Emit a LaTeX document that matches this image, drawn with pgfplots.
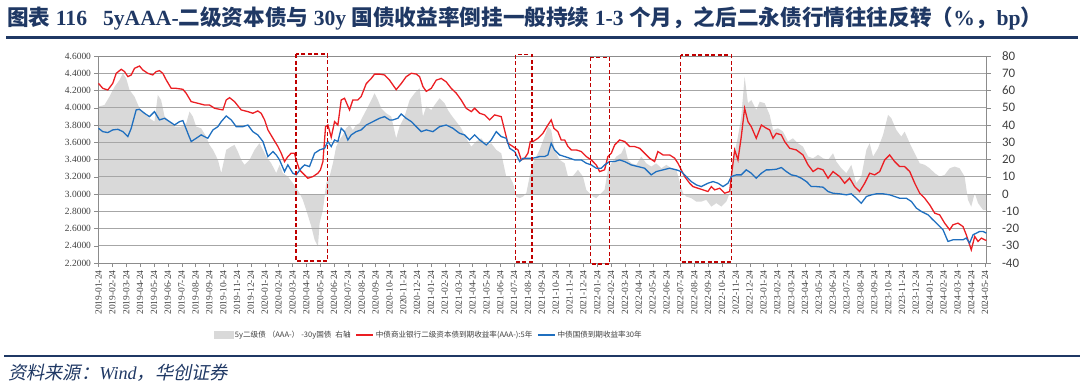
\documentclass[border=0pt]{standalone}
\usepackage{pgfplots}
\pgfplotsset{compat=1.18}
\usepackage{fontspec}
\setmainfont{Liberation Serif}
\newfontfamily\cjk{Noto Sans CJK SC}
\newfontfamily\cjkit{Noto Sans CJK SC}[FakeSlant=0.2]
\newfontfamily\carlito{Carlito}
\definecolor{redc}{HTML}{EB1E23}
\definecolor{bluec}{HTML}{1F6FBF}
\definecolor{grayc}{HTML}{D9D9D9}
\definecolor{navy}{HTML}{1F3864}
\definecolor{boxred}{HTML}{C00000}
\definecolor{gridc}{HTML}{A6A6A6}
\definecolor{axc}{HTML}{8C8C8C}
\definecolor{tickc}{HTML}{404040}
\begin{document}
\begin{tikzpicture}
\useasboundingbox (0bp,0bp) rectangle (1080bp,386bp);
% title
\node[anchor=west, inner sep=0pt, text=navy, font=\fontsize{21.7}{25}\selectfont\bfseries] at (7bp,368bp)
 {{\cjk 图表}\ 116\hspace{16bp}5yAAA-{\cjk 二级资本债与}\ 30y\ {\cjk 国债收益率倒挂一般持续}\ 1-3\ {\cjk 个月，之后二永债行情往往反转（}\%{\cjk ，}bp{\cjk ）}};
\draw[navy, line width=2.7bp] (6bp,348.5bp) -- (1078bp,348.5bp);
\draw[navy, line width=2bp] (4bp,30bp) -- (1080bp,30bp);
\node[anchor=west, inner sep=0pt, text=navy, font=\fontsize{18.3}{21}\selectfont] at (8bp,13bp)
 {{\cjkit 资料来源：}\textit{Wind}{\cjkit ，华创证券}};
% right axis with gray area
\begin{axis}[
  at={(98.5bp,123bp)}, anchor=south west,
  scale only axis, width=888bp, height=207bp,
  xmin=0, xmax=64.1, ymin=-40, ymax=80,
  axis x line=none, axis y line*=right,
  ytick={-40,-30,...,80},
  y axis line style={draw=axc},
  tick align=outside, major tick length=4bp,
  ytick style={draw=axc},
  /pgf/number format/assume math mode=true,
  yticklabel style={font=\carlito\fontsize{13}{14}\selectfont, text=tickc, anchor=west, xshift=8bp},
]
\addplot[fill=grayc, draw=none] table[x=m,y=v] {
m v
0.00 0
0.00 50.7
0.43 51.6
0.79 56.4
1.16 62.2
1.52 66.1
1.76 70.0
2.00 67.0
2.24 60.3
2.60 56.4
2.96 49.7
3.32 46.8
3.68 43.9
4.04 42.0
4.28 57.4
4.52 54.5
4.77 44.9
5.13 42.0
5.49 39.1
5.97 39.1
6.33 41.0
6.57 47.8
6.81 44.9
7.05 39.1
7.41 38.1
7.77 33.3
8.01 28.5
8.26 25.6
8.62 19.8
8.86 12.1
9.22 25.6
9.58 27.5
9.82 28.5
10.06 24.6
10.30 19.8
10.54 16.9
10.90 19.8
11.26 25.6
11.62 29.4
11.87 25.6
12.11 21.7
12.47 17.8
12.83 12.1
13.07 16.9
13.31 12.1
13.67 10.1
14.03 6.3
14.27 3.4
14.51 0.5
14.75 -3.4
14.99 -9.2
15.36 -18.8
15.60 -26.6
15.84 -30.4
15.96 -16.9
16.20 -9.2
16.44 6.3
16.68 10.1
16.92 17.8
17.16 27.5
17.40 31.4
17.64 34.2
17.88 38.1
18.12 40.0
18.36 37.1
18.60 40.0
18.84 41.0
19.08 44.9
19.33 48.7
19.69 54.5
19.93 58.4
20.17 54.5
20.41 49.7
20.77 46.8
21.13 44.9
21.49 32.3
21.73 39.1
22.09 44.9
22.46 54.5
22.82 58.4
23.18 61.3
23.42 44.9
23.66 50.7
24.02 48.7
24.26 51.6
24.62 55.5
24.98 52.6
25.22 48.7
25.46 45.8
25.82 42.0
26.18 38.1
26.54 32.3
26.91 27.5
27.27 30.5
27.63 32.3
27.99 28.5
28.35 29.4
28.71 25.6
29.07 23.6
29.43 10.1
29.68 10.1
29.92 6.3
30.16 -1.5
30.40 -2.4
30.64 -1.5
30.88 0.5
31.12 10.1
31.36 17.8
31.60 21.7
31.84 25.6
32.20 33.3
32.44 39.1
32.68 37.1
32.92 25.6
33.28 19.8
33.65 17.8
33.89 10.1
34.25 10.5
34.61 14.0
34.97 10.1
35.21 2.4
35.45 0.5
35.69 -1.5
35.93 -2.4
36.29 0.5
36.53 2.4
36.77 14.0
37.02 17.8
37.38 21.7
37.74 23.6
37.98 27.5
38.22 19.8
38.46 17.8
38.82 16.9
39.18 21.7
39.54 17.8
39.90 15.9
40.26 17.8
40.63 14.9
40.99 16.9
41.35 14.9
41.71 14.0
41.95 7.2
42.19 0.5
42.43 -1.5
42.79 -2.4
43.15 -4.4
43.51 -4.4
43.87 -3.4
44.24 -7.3
44.60 -5.3
44.96 -7.3
45.32 -4.4
45.56 0.5
45.80 19.8
46.16 33.3
46.40 44.9
46.64 68.0
46.88 52.6
47.12 54.5
47.48 48.7
47.73 53.5
48.09 52.6
48.45 45.8
48.69 37.1
49.05 38.1
49.41 36.2
49.77 30.5
50.13 32.3
50.49 29.4
50.85 27.5
51.22 21.7
51.58 20.7
51.94 22.7
52.30 20.7
52.66 19.8
53.02 23.6
53.26 18.8
53.62 14.9
53.98 12.1
54.34 16.9
54.70 6.3
55.06 10.1
55.43 25.6
55.67 29.4
55.91 21.7
56.27 26.5
56.63 34.2
56.99 45.8
57.23 43.9
57.59 37.1
57.95 33.3
58.19 36.2
58.56 29.4
58.92 23.6
59.28 17.8
59.64 16.9
60.00 14.9
60.36 12.1
60.72 10.1
61.08 11.1
61.44 14.9
61.80 15.9
62.16 14.9
62.52 10.1
62.76 -3.4
63.00 -7.3
63.25 0.5
63.49 -5.3
63.85 -9.2
64.09 -9.2
64.09 0
} \closedcycle;
\end{axis}
% left axis with lines
\begin{axis}[
  at={(98.5bp,123bp)}, anchor=south west,
  scale only axis, width=888bp, height=207bp,
  xmin=0, xmax=64.1, ymin=2.2, ymax=4.6,
  clip=false,
  ytick={2.2,2.4,...,4.61},
  yticklabel={\pgfmathprintnumber[fixed,fixed zerofill,precision=4]{\tick}},
  /pgf/number format/assume math mode=true,
  ymajorgrids, grid style={draw=gridc, line width=0.9bp},
  axis line style={draw=axc},
  tick style={draw=axc},
  tick align=outside, major tick length=4bp,
  ytick pos=left, xtick pos=bottom,
  yticklabel style={font=\fontsize{9.5}{11}\selectfont, text=tickc},
  xtick={0,1,...,64},
  xticklabels={2019-01-24,2019-02-24,2019-03-24,2019-04-24,2019-05-24,2019-06-24,2019-07-24,2019-08-24,2019-09-24,2019-10-24,2019-11-24,2019-12-24,
  2020-01-24,2020-02-24,2020-03-24,2020-04-24,2020-05-24,2020-06-24,2020-07-24,2020-08-24,2020-09-24,2020-10-24,2020-11-24,2020-12-24,
  2021-01-24,2021-02-24,2021-03-24,2021-04-24,2021-05-24,2021-06-24,2021-07-24,2021-08-24,2021-09-24,2021-10-24,2021-11-24,2021-12-24,
  2022-01-24,2022-02-24,2022-03-24,2022-04-24,2022-05-24,2022-06-24,2022-07-24,2022-08-24,2022-09-24,2022-10-24,2022-11-24,2022-12-24,
  2023-01-24,2023-02-24,2023-03-24,2023-04-24,2023-05-24,2023-06-24,2023-07-24,2023-08-24,2023-09-24,2023-10-24,2023-11-24,2023-12-24,
  2024-01-24,2024-02-24,2024-03-24,2024-04-24,2024-05-24},
  xticklabel style={font=\fontsize{9.5}{10}\selectfont, text=tickc, rotate=90, anchor=east},
  legend style={at={(0.126,-0.348)}, anchor=west, draw=none, fill=none,
    font=\cjk\fontsize{7.6}{8.5}\selectfont, text=tickc,
    /tikz/every even column/.append style={column sep=3bp}},
  legend columns=3, legend cell align=left,
]
\addlegendimage{legend image code/.code={\fill[grayc] (0bp,-3.5bp) rectangle (19bp,3.5bp);}}
\addlegendentry{5y二级债\hspace{2bp}（AAA-）\hspace{2bp}-30y国债\hspace{4bp}右轴}
\addplot[redc, line width=1.3bp] table[x=m,y=v] {
m v
0.00 4.283
0.31 4.225
0.67 4.206
1.03 4.283
1.28 4.399
1.64 4.446
1.88 4.419
2.12 4.361
2.36 4.380
2.60 4.457
2.96 4.484
3.20 4.438
3.56 4.399
3.92 4.380
4.16 4.419
4.40 4.430
4.64 4.399
4.89 4.322
5.25 4.225
5.61 4.225
6.09 4.214
6.33 4.168
6.69 4.071
7.17 4.052
7.65 4.032
8.01 4.032
8.38 3.994
8.74 3.982
8.98 3.975
9.22 4.090
9.46 4.117
9.82 4.071
10.30 3.975
10.78 3.955
11.14 3.936
11.50 3.963
11.74 3.936
11.99 3.859
12.23 3.743
12.59 3.646
12.95 3.550
13.19 3.473
13.43 3.376
13.67 3.434
13.91 3.473
14.15 3.473
14.27 3.395
14.51 3.280
14.87 3.222
15.11 3.183
15.48 3.202
15.84 3.241
16.02 3.280
16.20 3.376
16.39 3.781
16.56 3.800
16.80 3.658
17.04 3.839
17.28 3.800
17.52 4.090
17.76 4.110
18.12 3.975
18.36 4.090
18.72 4.090
18.96 4.130
19.33 4.280
19.69 4.340
19.93 4.390
20.29 4.390
20.65 4.380
21.01 4.320
21.49 4.210
21.85 4.280
22.21 4.360
22.58 4.400
22.94 4.390
23.18 4.360
23.42 4.245
23.66 4.190
24.02 4.225
24.38 4.320
24.74 4.340
25.10 4.300
25.46 4.225
25.82 4.170
26.18 4.090
26.54 3.994
26.91 3.955
27.15 3.994
27.51 3.936
27.87 3.917
28.23 3.859
28.59 3.917
29.07 3.897
29.31 3.743
29.55 3.588
29.92 3.550
30.28 3.511
30.52 3.395
30.76 3.415
31.00 3.473
31.17 3.608
31.36 3.608
31.72 3.646
32.08 3.704
32.44 3.800
32.68 3.859
32.87 3.762
33.16 3.723
33.40 3.627
33.65 3.627
33.89 3.550
34.13 3.511
34.49 3.511
34.85 3.492
35.21 3.434
35.57 3.395
35.93 3.337
36.17 3.260
36.53 3.280
36.77 3.434
37.02 3.473
37.26 3.569
37.62 3.627
37.98 3.608
38.34 3.550
38.70 3.550
39.06 3.530
39.42 3.473
39.78 3.415
40.14 3.376
40.38 3.492
40.75 3.453
41.23 3.453
41.59 3.415
41.83 3.357
42.07 3.280
42.31 3.202
42.67 3.125
42.91 3.086
43.27 3.067
43.63 3.048
43.99 3.029
44.24 3.086
44.48 3.048
44.84 3.067
45.20 3.009
45.56 3.029
45.68 3.202
45.92 3.511
46.16 3.395
46.40 3.666
46.64 3.994
46.88 3.839
47.12 3.781
47.48 3.646
47.85 3.800
48.21 3.762
48.45 3.743
48.69 3.646
48.93 3.704
49.29 3.685
49.53 3.608
49.89 3.530
50.37 3.511
50.85 3.453
51.22 3.337
51.58 3.260
51.94 3.299
52.30 3.280
52.66 3.183
53.02 3.260
53.50 3.202
53.86 3.125
54.22 3.183
54.58 3.086
54.94 3.029
55.31 3.125
55.67 3.241
56.03 3.222
56.39 3.260
56.75 3.395
57.11 3.453
57.47 3.376
57.83 3.318
58.19 3.318
58.56 3.260
58.92 3.125
59.28 3.009
59.64 2.951
60.00 2.874
60.36 2.778
60.72 2.758
61.08 2.662
61.44 2.585
61.68 2.643
62.04 2.662
62.40 2.623
62.64 2.527
63.00 2.353
63.25 2.508
63.49 2.450
63.73 2.489
63.97 2.469
64.09 2.461
};
\addlegendentry{中债商业银行二级资本债到期收益率(AAA-):5年}
\addplot[bluec, line width=1.3bp] table[x=m,y=v] {
m v
0.00 3.762
0.31 3.723
0.67 3.712
1.03 3.743
1.40 3.750
1.76 3.723
2.12 3.666
2.36 3.762
2.72 3.975
2.96 3.982
3.32 3.936
3.68 3.897
4.04 3.955
4.40 3.859
4.77 3.878
5.13 3.839
5.49 3.800
5.85 3.839
6.09 3.851
6.45 3.704
6.69 3.608
7.05 3.646
7.41 3.685
7.89 3.646
8.26 3.743
8.62 3.781
8.86 3.839
9.22 3.905
9.58 3.859
9.94 3.781
10.42 3.781
10.78 3.800
11.14 3.723
11.50 3.685
11.87 3.608
12.23 3.434
12.59 3.492
12.83 3.453
13.07 3.395
13.43 3.260
13.67 3.337
14.03 3.241
14.27 3.222
14.63 3.299
14.87 3.337
15.23 3.318
15.60 3.473
15.96 3.511
16.32 3.530
16.56 3.608
16.80 3.550
17.04 3.627
17.28 3.608
17.52 3.762
17.76 3.723
18.00 3.627
18.24 3.685
18.60 3.723
18.96 3.743
19.33 3.800
19.81 3.839
20.29 3.878
20.65 3.897
21.01 3.859
21.25 3.859
21.61 3.878
21.85 3.928
22.21 3.878
22.58 3.839
22.94 3.781
23.30 3.723
23.66 3.743
24.14 3.723
24.62 3.781
25.10 3.800
25.58 3.762
26.06 3.704
26.42 3.685
26.79 3.627
27.15 3.685
27.51 3.627
27.99 3.569
28.35 3.627
28.71 3.723
29.07 3.666
29.43 3.646
29.68 3.530
30.04 3.492
30.40 3.376
30.64 3.415
31.00 3.415
31.36 3.415
31.84 3.434
32.20 3.434
32.44 3.453
32.68 3.588
32.92 3.511
33.28 3.453
33.65 3.434
34.01 3.415
34.37 3.395
34.85 3.395
35.21 3.357
35.57 3.337
35.93 3.299
36.29 3.299
36.53 3.337
36.90 3.376
37.26 3.376
37.62 3.395
37.98 3.376
38.46 3.337
38.94 3.318
39.42 3.299
39.90 3.222
40.26 3.260
40.75 3.280
41.23 3.299
41.71 3.280
42.07 3.260
42.43 3.202
42.79 3.144
43.15 3.106
43.51 3.086
43.99 3.125
44.36 3.144
44.72 3.125
45.08 3.086
45.44 3.125
45.68 3.202
46.04 3.222
46.40 3.222
46.76 3.280
47.12 3.241
47.48 3.183
47.85 3.241
48.21 3.280
48.45 3.280
48.93 3.287
49.29 3.307
49.65 3.260
50.01 3.222
50.37 3.210
50.73 3.183
51.10 3.144
51.46 3.086
51.82 3.086
52.30 3.079
52.66 3.029
53.02 3.009
53.50 3.002
53.98 2.990
54.34 3.002
54.70 2.951
55.06 2.893
55.43 2.971
55.79 2.990
56.15 3.002
56.63 3.002
57.11 2.990
57.47 2.971
57.83 2.951
58.31 2.951
58.68 2.913
59.04 2.836
59.40 2.797
59.88 2.758
60.24 2.700
60.60 2.643
60.96 2.585
61.32 2.450
61.68 2.469
62.04 2.469
62.40 2.469
62.64 2.489
62.88 2.431
63.13 2.527
63.37 2.546
63.61 2.566
63.85 2.566
64.09 2.546
};
\addlegendentry{中债国债到期收益率30年}
% highlight boxes
\draw[boxred, line width=1.4bp, dash pattern=on 4bp off 2.5bp] (axis cs:14.25,4.623) rectangle (axis cs:16.55,2.225);
\draw[boxred, line width=1.4bp, dash pattern=on 4bp off 2.5bp] (axis cs:30.08,4.615) rectangle (axis cs:31.29,2.21);
\draw[boxred, line width=1.4bp, dash pattern=on 4bp off 2.5bp] (axis cs:35.50,4.585) rectangle (axis cs:36.90,2.19);
\draw[boxred, line width=1.4bp, dash pattern=on 4bp off 2.5bp] (axis cs:42.02,4.61) rectangle (axis cs:45.68,2.21);
\end{axis}
\end{tikzpicture}
\end{document}
